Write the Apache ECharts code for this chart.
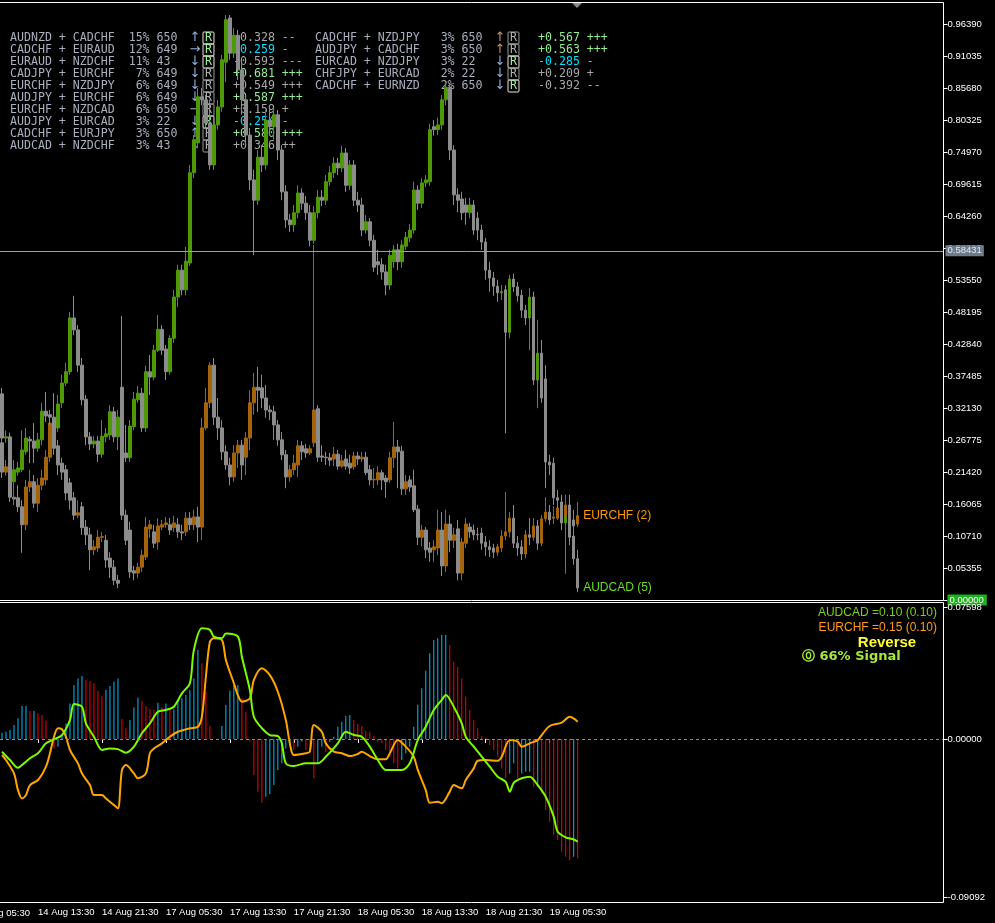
<!DOCTYPE html>
<html><head><meta charset="utf-8">
<script src="https://cdn.jsdelivr.net/npm/echarts@6/dist/echarts.min.js"></script>
<style>html,body{margin:0;padding:0;background:#000;overflow:hidden}#c{width:995px;height:923px}</style>
</head><body><div id="c"></div>
<script>
// ---- candles: [open, close, low, high]
const audcad = [
[0.345,0.271,0.259,0.355],[0.271,0.273,0.263,0.284],[0.273,0.201,0.167,0.280],[0.198,0.218,0.159,0.234],[0.214,0.221,0.208,0.231],
[0.218,0.251,0.214,0.284],[0.248,0.271,0.243,0.288],[0.269,0.266,0.229,0.274],[0.266,0.254,0.229,0.296],[0.254,0.268,0.248,0.280],
[0.268,0.316,0.259,0.330],[0.316,0.308,0.298,0.348],[0.310,0.306,0.293,0.318],[0.306,0.288,0.254,0.346],[0.288,0.328,0.281,0.343],
[0.330,0.363,0.321,0.377],[0.363,0.382,0.358,0.397],[0.382,0.472,0.377,0.482],[0.472,0.452,0.443,0.509],[0.452,0.393,0.382,0.460],
[0.393,0.335,0.326,0.405],[0.336,0.273,0.259,0.343],[0.273,0.261,0.251,0.281],[0.261,0.266,0.254,0.274],[0.266,0.244,0.231,0.274],
[0.244,0.274,0.238,0.301],[0.273,0.278,0.264,0.288],[0.276,0.315,0.268,0.326],[0.315,0.273,0.264,0.323],[0.273,0.306,0.251,0.318],
[0.306,0.246,0.234,0.326],[0.246,0.238,0.231,0.293],[0.238,0.291,0.231,0.301],[0.290,0.336,0.284,0.348],[0.335,0.346,0.330,0.358],
[0.346,0.288,0.281,0.355],[0.288,0.382,0.281,0.392],[0.382,0.373,0.343,0.410],[0.373,0.418,0.368,0.427],[0.418,0.453,0.415,0.477],
[0.453,0.418,0.410,0.460],[0.420,0.382,0.368,0.427],[0.382,0.438,0.377,0.443],[0.438,0.507,0.430,0.519],[0.507,0.552,0.490,0.561],
[0.552,0.519,0.510,0.561],[0.519,0.567,0.510,0.591],[0.564,0.715,0.559,0.728],[0.715,0.770,0.706,0.778],[0.765,0.842,0.756,0.857],
[0.842,0.837,0.828,0.857],[0.837,0.798,0.790,0.845],[0.798,0.728,0.720,0.837],[0.728,0.795,0.720,0.803],[0.795,0.825,0.787,0.837],
[0.825,0.904,0.817,0.912],[0.900,0.971,0.867,0.979],[0.974,0.915,0.904,0.979],[0.915,0.945,0.907,0.957],[0.945,0.887,0.870,0.954],
[0.887,0.837,0.812,0.900],[0.837,0.778,0.761,0.845],[0.778,0.703,0.686,0.790],[0.703,0.669,0.577,0.720],[0.669,0.741,0.661,0.753],
[0.741,0.728,0.716,0.761],[0.728,0.803,0.720,0.820],[0.803,0.792,0.778,0.828],[0.792,0.812,0.770,0.823],[0.812,0.753,0.736,0.820],
[0.753,0.683,0.669,0.761],[0.683,0.636,0.623,0.694],[0.636,0.628,0.616,0.646],[0.628,0.648,0.616,0.661],[0.648,0.681,0.639,0.694],
[0.681,0.664,0.653,0.689],[0.664,0.648,0.636,0.676],[0.648,0.602,0.592,0.661],[0.602,0.648,0.596,0.659],[0.648,0.674,0.639,0.686],
[0.674,0.669,0.659,0.686],[0.669,0.700,0.661,0.711],[0.700,0.715,0.693,0.726],[0.715,0.731,0.706,0.741],[0.731,0.723,0.711,0.740],
[0.723,0.748,0.716,0.760],[0.748,0.694,0.683,0.756],[0.694,0.728,0.686,0.736],[0.728,0.669,0.659,0.736],[0.669,0.661,0.649,0.683],
[0.661,0.619,0.609,0.673],[0.619,0.633,0.613,0.644],[0.633,0.602,0.592,0.639],[0.602,0.557,0.549,0.611],[0.566,0.561,0.544,0.586],
[0.561,0.549,0.536,0.572],[0.549,0.527,0.510,0.561],[0.527,0.577,0.519,0.586],[0.566,0.586,0.556,0.594],[0.586,0.566,0.552,0.596],
[0.566,0.594,0.556,0.602],[0.592,0.607,0.586,0.616],[0.606,0.619,0.599,0.629],[0.619,0.686,0.613,0.700],[0.686,0.664,0.653,0.694],
[0.664,0.698,0.656,0.706],[0.698,0.703,0.691,0.711],[0.700,0.787,0.693,0.797],[0.792,0.787,0.777,0.803],[0.787,0.795,0.778,0.807],
[0.795,0.837,0.787,0.845],[0.837,0.858,0.828,0.863],[0.858,0.753,0.736,0.863],[0.753,0.678,0.661,0.761],[0.678,0.669,0.649,0.689],
[0.671,0.648,0.636,0.683],[0.661,0.649,0.628,0.673],[0.648,0.661,0.639,0.673],[0.661,0.619,0.611,0.669],[0.639,0.619,0.602,0.649],
[0.619,0.599,0.586,0.628],[0.599,0.552,0.536,0.606],[0.552,0.539,0.516,0.566],[0.539,0.525,0.509,0.549],[0.525,0.514,0.499,0.536],
[0.514,0.516,0.502,0.527],[0.519,0.448,0.279,0.527],[0.448,0.537,0.438,0.544],[0.537,0.524,0.516,0.546],[0.524,0.509,0.499,0.532],
[0.510,0.485,0.472,0.519],[0.485,0.472,0.460,0.494],[0.472,0.507,0.418,0.522],[0.507,0.368,0.360,0.516],[0.368,0.413,0.321,0.469],
[0.413,0.338,0.330,0.435],[0.370,0.231,0.187,0.393],[0.231,0.226,0.209,0.243],[0.229,0.171,0.159,0.238],[0.171,0.167,0.154,0.184],
[0.164,0.129,0.117,0.176],[0.129,0.139,0.044,0.147],[0.144,0.105,0.092,0.159],[0.107,0.069,0.059,0.121],[0.069,0.020,0.013,0.084]
];
const eurchf = [
[0.263,0.214,0.204,0.271],[0.214,0.223,0.208,0.234],[0.223,0.172,0.164,0.231],[0.172,0.169,0.159,0.184],[0.171,0.156,0.147,0.192],
[0.156,0.126,0.079,0.167],[0.126,0.189,0.117,0.201],[0.189,0.198,0.181,0.218],[0.198,0.162,0.154,0.209],[0.162,0.192,0.147,0.204],
[0.192,0.204,0.184,0.218],[0.201,0.239,0.192,0.251],[0.239,0.296,0.231,0.310],[0.296,0.254,0.243,0.305],[0.258,0.226,0.209,0.268],
[0.229,0.214,0.201,0.238],[0.218,0.179,0.167,0.226],[0.196,0.167,0.151,0.204],[0.171,0.142,0.134,0.181],[0.142,0.146,0.137,0.167],
[0.156,0.121,0.109,0.164],[0.122,0.109,0.092,0.134],[0.109,0.084,0.050,0.121],[0.084,0.089,0.075,0.100],[0.087,0.105,0.080,0.117],
[0.105,0.106,0.097,0.114],[0.100,0.067,0.054,0.109],[0.070,0.055,0.037,0.080],[0.055,0.033,0.025,0.067],[0.033,0.028,0.020,0.042],
[0.356,0.142,0.134,0.475],[0.142,0.100,0.092,0.151],[0.117,0.047,0.037,0.131],[0.049,0.045,0.033,0.057],[0.045,0.055,0.037,0.062],
[0.055,0.075,0.047,0.084],[0.072,0.122,0.067,0.139],[0.119,0.126,0.104,0.134],[0.114,0.095,0.087,0.126],[0.097,0.124,0.084,0.137],
[0.122,0.126,0.117,0.134],[0.126,0.129,0.121,0.139],[0.126,0.117,0.109,0.137],[0.121,0.129,0.114,0.141],[0.126,0.114,0.104,0.137],
[0.114,0.112,0.100,0.126],[0.114,0.137,0.107,0.147],[0.137,0.126,0.117,0.147],[0.126,0.139,0.117,0.151],[0.139,0.122,0.097,0.156],
[0.122,0.288,0.100,0.305],[0.288,0.330,0.284,0.355],[0.330,0.393,0.321,0.398],[0.393,0.306,0.293,0.405],[0.306,0.288,0.268,0.338],
[0.288,0.248,0.234,0.301],[0.248,0.226,0.218,0.259],[0.226,0.206,0.192,0.238],[0.206,0.246,0.198,0.259],[0.246,0.259,0.221,0.268],
[0.259,0.226,0.201,0.268],[0.239,0.271,0.209,0.281],[0.271,0.330,0.251,0.351],[0.330,0.356,0.310,0.380],[0.356,0.351,0.315,0.390],
[0.355,0.338,0.321,0.377],[0.338,0.318,0.305,0.360],[0.318,0.315,0.301,0.326],[0.315,0.293,0.268,0.325],[0.293,0.268,0.258,0.301],
[0.268,0.243,0.234,0.281],[0.243,0.206,0.187,0.251],[0.206,0.218,0.198,0.226],[0.218,0.229,0.209,0.243],[0.226,0.258,0.206,0.268],
[0.258,0.248,0.234,0.266],[0.253,0.246,0.238,0.261],[0.246,0.253,0.243,0.259],[0.263,0.318,0.256,0.594],[0.320,0.239,0.231,0.326],
[0.241,0.239,0.231,0.259],[0.239,0.238,0.226,0.248],[0.238,0.234,0.224,0.246],[0.236,0.244,0.224,0.256],[0.244,0.224,0.218,0.251],
[0.224,0.233,0.221,0.243],[0.236,0.224,0.218,0.251],[0.229,0.221,0.211,0.243],[0.223,0.241,0.218,0.248],[0.241,0.236,0.226,0.248],
[0.236,0.239,0.231,0.248],[0.239,0.213,0.209,0.248],[0.218,0.201,0.192,0.226],[0.201,0.202,0.187,0.221],[0.201,0.213,0.192,0.224],
[0.213,0.201,0.184,0.218],[0.204,0.198,0.171,0.209],[0.201,0.238,0.196,0.248],[0.238,0.256,0.221,0.298],[0.256,0.248,0.187,0.268],
[0.249,0.186,0.176,0.258],[0.186,0.198,0.176,0.209],[0.201,0.189,0.181,0.208],[0.191,0.151,0.147,0.218],[0.152,0.105,0.092,0.159],
[0.105,0.117,0.090,0.126],[0.117,0.084,0.070,0.122],[0.087,0.080,0.064,0.097],[0.084,0.089,0.064,0.100],[0.087,0.117,0.075,0.151],
[0.117,0.057,0.040,0.147],[0.057,0.127,0.047,0.151],[0.127,0.100,0.080,0.142],[0.100,0.109,0.087,0.121],[0.119,0.045,0.033,0.134],
[0.045,0.097,0.033,0.104],[0.095,0.127,0.087,0.137],[0.122,0.114,0.104,0.129],[0.117,0.109,0.100,0.126],[0.110,0.109,0.100,0.121],
[0.112,0.095,0.084,0.121],[0.097,0.089,0.074,0.107],[0.089,0.084,0.072,0.100],[0.087,0.080,0.070,0.094],[0.080,0.089,0.074,0.094],
[0.087,0.107,0.080,0.117],[0.107,0.114,0.100,0.181],[0.114,0.137,0.105,0.147],[0.137,0.095,0.087,0.159],[0.095,0.087,0.074,0.107],
[0.089,0.077,0.067,0.100],[0.077,0.109,0.070,0.117],[0.109,0.105,0.092,0.137],[0.105,0.124,0.099,0.137],[0.124,0.095,0.084,0.134],
[0.095,0.136,0.090,0.142],[0.136,0.147,0.131,0.172],[0.147,0.134,0.126,0.159],[0.137,0.139,0.127,0.157],[0.137,0.154,0.134,0.167],
[0.149,0.141,0.134,0.164],[0.134,0.159,0.127,0.176],[0.159,0.134,0.124,0.176],[0.134,0.124,0.112,0.151],[0.127,0.141,0.122,0.164]
];
// ---- lower panel lines: [barIndex, value]
const audcadOsc = [[0,-0.0073],[2,-0.0121],[4,-0.0165],[5,-0.0150],[7,-0.0111],[9,-0.0082],[11,-0.0025],[13,-0.0002],[15,0.0023],[17,0.0109],[18,0.0201],[20,0.0186],[21,0.0090],[23,0.0013],[25,-0.0063],[27,-0.0054],[29,-0.0058],[31,-0.0079],[33,-0.0044],[35,0.0033],[37,0.0090],[39,0.0157],[41,0.0167],[43,0.0186],[45,0.0263],[47,0.0321],[48,0.0512],[50,0.0637],[52,0.0628],[53,0.0589],[55,0.0580],[56,0.0608],[59,0.0589],[60,0.0474],[62,0.0282],[63,0.0128],[65,0.0062],[67,0.0023],[69,0.0017],[70,-0.0025],[71,-0.0140],[73,-0.0155],[76,-0.0140],[79,-0.0140],[81,-0.0102],[84,-0.0025],[86,0.0042],[88,0.0023],[90,0.0013],[92,-0.0044],[94,-0.0121],[96,-0.0178],[100,-0.0178],[102,-0.0140],[104,-0.0006],[106,0.0071],[108,0.0167],[110,0.0225],[111,0.0253],[113,0.0186],[115,0.0090],[116,0.0013],[118,-0.0044],[120,-0.0102],[122,-0.0159],[124,-0.0217],[126,-0.0246],[127,-0.0303],[128,-0.0252],[130,-0.0226],[132,-0.0217],[134,-0.0265],[136,-0.0332],[138,-0.0447],[139,-0.0534],[141,-0.0566],[143,-0.0578],[144,-0.0591]];
const eurchfOsc = [[0,-0.0092],[1,-0.0121],[3,-0.0198],[4,-0.0294],[5,-0.0342],[6,-0.0322],[7,-0.0265],[9,-0.0236],[11,-0.0159],[12,-0.0082],[13,0.0013],[14,0.0062],[15,0.0056],[16,0.0013],[17,-0.0063],[19,-0.0140],[20,-0.0198],[22,-0.0265],[23,-0.0322],[25,-0.0322],[26,-0.0342],[28,-0.0380],[29,-0.0399],[30,-0.0178],[31,-0.0150],[33,-0.0198],[34,-0.0226],[36,-0.0198],[37,-0.0082],[38,-0.0054],[40,-0.0025],[42,0.0013],[44,0.0042],[47,0.0062],[49,0.0071],[50,0.0128],[51,0.0359],[52,0.0560],[53,0.0580],[55,0.0570],[56,0.0455],[58,0.0321],[59,0.0253],[60,0.0215],[62,0.0234],[63,0.0340],[65,0.0407],[67,0.0368],[69,0.0272],[71,0.0109],[72,-0.0025],[73,-0.0092],[76,-0.0082],[77,-0.0073],[78,0.0081],[80,0.0042],[81,-0.0025],[83,-0.0073],[85,-0.0082],[87,-0.0098],[89,-0.0086],[90,-0.0073],[92,-0.0098],[94,-0.0117],[96,-0.0117],[97,-0.0082],[99,-0.0006],[101,-0.0044],[103,-0.0102],[104,-0.0178],[106,-0.0294],[107,-0.0367],[109,-0.0361],[110,-0.0370],[112,-0.0303],[113,-0.0265],[115,-0.0284],[116,-0.0236],[118,-0.0169],[119,-0.0125],[121,-0.0121],[124,-0.0125],[125,-0.0102],[127,-0.0006],[129,-0.0015],[130,-0.0044],[132,-0.0025],[134,-0.0006],[135,0.0023],[137,0.0075],[140,0.0094],[142,0.0128],[144,0.0100]];
// ---- lower panel histogram (one per bar)
const oscHist = [0.0036,0.0042,0.0052,0.0081,0.0119,0.0190,0.0190,0.0161,0.0161,0.0148,
0.0138,0.0106,-0.0006,-0.0054,-0.0044,0.0023,0.0090,0.0205,0.0311,0.0349,
0.0363,0.0340,0.0334,0.0321,0.0278,0.0248,0.0282,0.0305,0.0330,0.0349,
0.0115,0.0062,0.0109,0.0182,0.0238,0.0220,0.0190,0.0171,0.0167,0.0209,
0.0182,0.0205,0.0167,0.0171,0.0225,0.0234,0.0253,0.0282,0.0349,0.0512,
0.0436,0.0272,0.0075,0.0002,0.0001,0.0075,0.0196,0.0278,0.0311,0.0311,
0.0234,0.0157,-0.0015,-0.0207,-0.0303,-0.0367,-0.0332,-0.0317,-0.0265,-0.0178,
-0.0140,-0.0054,-0.0035,-0.0063,-0.0044,-0.0015,-0.0063,-0.0073,-0.0226,-0.0144,
-0.0044,-0.0073,-0.0015,0.0013,0.0071,0.0100,0.0132,0.0138,0.0109,0.0086,
0.0075,0.0048,0.0042,0.0017,-0.0015,-0.0025,-0.0063,-0.0102,-0.0140,-0.0169,
-0.0121,-0.0082,-0.0044,0.0071,0.0196,0.0292,0.0393,0.0493,0.0570,0.0580,
0.0599,0.0599,0.0541,0.0445,0.0416,0.0349,0.0244,0.0167,0.0109,0.0062,
0.0017,0.0008,-0.0035,-0.0063,-0.0102,-0.0169,-0.0226,-0.0198,-0.0140,-0.0226,
-0.0198,-0.0188,-0.0188,-0.0274,-0.0274,-0.0313,-0.0409,-0.0476,-0.0553,-0.0581,
-0.0649,-0.0678,-0.0697,-0.0678,-0.0687];
// ---- axes
const priceStep = 0.05355;
const priceMax = 0.999;
const bidLine = 0.58431;
const oscTicks = [0.07598, 0, -0.09092];
const firstBar = Date.UTC(2020, 7, 14, 9, 0);
const slotCount = 236;
const months = ['Jan','Feb','Mar','Apr','May','Jun','Jul','Aug','Sep','Oct','Nov','Dec'];
const labelEvery = 16, labelFirst = 9;
const preLabel = '14 Aug 05:30';
// ---- table
const tblPair1 = ['AUDNZD','CADCHF','EURAUD','CADJPY','EURCHF','AUDJPY','EURCHF','AUDJPY','CADCHF','AUDCAD','CADCHF','AUDJPY','EURCAD','CHFJPY','CADCHF'];
const tblPair2 = ['CADCHF','EURAUD','NZDCHF','EURCHF','NZDJPY','EURCHF','NZDCAD','EURCAD','EURJPY','NZDCHF','NZDJPY','CADCHF','NZDJPY','EURCAD','EURNZD'];
const tblPct = ['15%','12%','11%','7%','6%','6%','6%','3%','3%','3%','3%','3%','3%','2%','2%'];
const tblCount = ['650','649','43','649','649','649','650','22','650','43','650','650','22','22','650'];
const tblDir = ['↑','→','↓','↓','↓','↓','→','↓','↑','↓','↑','↑','↓','↓','↓'];
const tblRActive = [1,1,1,0,0,0,0,1,0,0,0,0,1,0,1];
const tblCorr = ['-0.328','-0.259','-0.593','+0.681','+0.549','+0.587','+0.159','-0.254','+0.580','+0.346','+0.567','+0.563','-0.285','+0.209','-0.392'];
const tblStrength = ['--','-','---','+++','+++','+++','+','-','+++','++','+++','+++','-','+','--'];
const tblCorrTone = ['n','c','n','g','n','g','n','c','g','n','g','g','c','n','n'];
const legendText = ['AUDCAD =0.10 (0.10)', 'EURCHF =0.15 (0.10)'];
const signalText = ['Reverse', '⓪ 66% Signal'];

// categories (30-minute bars, weekend skipped)
const cats = [];
for (let t = firstBar; cats.length < slotCount; t += 30 * 60000) {
  const d = new Date(t), wd = d.getUTCDay();
  if (wd === 0 || wd === 6) continue;
  const hh = String(d.getUTCHours()).padStart(2, '0'), mm = String(d.getUTCMinutes()).padStart(2, '0');
  cats.push(d.getUTCDate() + ' ' + months[d.getUTCMonth()] + ' ' + hh + ':' + mm);
}
const nBars = audcad.length;
const showTime = (i) => i < nBars && (i - labelFirst) % labelEvery === 0;

const GREEN = '#4e9a06', GRAY = '#8c8c8c', BROWN = '#a5640c';
const axisFont = 'Liberation Sans, Arial, sans-serif';
const mono = '11.6px "DejaVu Sans Mono", "Liberation Mono", monospace';
const arrowFont = '13px "DejaVu Sans", sans-serif';

// table graphics
const graphics = [];
const pitch = 7;
for (let r = 0; r < tblPair1.length; r++) {
  const right = r >= 10;
  const x0 = right ? 315 : 10;
  const y = 38 + 12 * (right ? r - 10 : r);
  graphics.push({ type: 'text', x: x0, y: y, z: 1, silent: true,
    style: { text: tblPair1[r] + ' + ' + tblPair2[r] + tblPct[r].padStart(5) + ' ' + tblCount[r], fill: '#a9afbd', font: mono, verticalAlign: 'middle' } });
  graphics.push({ type: 'text', x: x0 + 26 * pitch + 3, y: y, z: 1, silent: true,
    style: { text: tblDir[r], fill: (right && tblDir[r] === '↑') ? '#c0966a' : '#8db0dc', font: arrowFont, align: 'center', verticalAlign: 'middle' } });
  const act = tblRActive[r] === 1;
  graphics.push({ type: 'text', x: x0 + 28 * pitch - 3, y: y, z: 1, silent: true,
    style: { text: 'R', fill: act ? '#9cf09c' : '#b0b0b0', font: mono, verticalAlign: 'middle',
      borderColor: act ? '#f4e4dc' : '#9a9a9a', borderWidth: 1, padding: [0, 2, 0, 2], borderRadius: 1 } });
  const tone = tblCorrTone[r];
  graphics.push({ type: 'text', x: x0 + 32 * pitch - 1, y: y, z: 1, silent: true,
    style: { text: tblCorr[r] + ' ' + tblStrength[r], fill: tone === 'g' ? '#90ee90' : tone === 'c' ? '#00e0ff' : '#a8a8a8', font: mono, verticalAlign: 'middle' } });
}
// frames
graphics.push({ type: 'rect', z: 50, silent: true, shape: { x: -0.5, y: 2.5, width: 944, height: 598 }, style: { fill: 'none', stroke: '#ffffff', lineWidth: 1 } });
graphics.push({ type: 'rect', z: 50, silent: true, shape: { x: -0.5, y: 602.5, width: 944, height: 300 }, style: { fill: 'none', stroke: '#ffffff', lineWidth: 1 } });
graphics.push({ type: 'polygon', z: 50, silent: true, shape: { points: [[572, 3], [582, 3], [577, 8]] }, style: { fill: '#8a8a8a' } });
// pre-data time label (clipped at left edge)
graphics.push({ type: 'text', x: 1.5 - 4 * 7, y: 913, z: 50, silent: true, style: { text: preLabel, fill: '#ffffff', font: '9.5px ' + axisFont, verticalAlign: 'middle' } });
// lower panel legends
graphics.push({ type: 'text', x: 937, y: 613, z: 50, silent: true, style: { text: legendText[0], fill: '#7ccf1e', font: '12px ' + axisFont, align: 'right', verticalAlign: 'middle' } });
graphics.push({ type: 'text', x: 937, y: 628, z: 50, silent: true, style: { text: legendText[1], fill: '#ff9a1a', font: '12px ' + axisFont, align: 'right', verticalAlign: 'middle' } });
graphics.push({ type: 'text', x: 887, y: 643, z: 50, silent: true, style: { text: signalText[0], fill: '#ffff33', font: 'bold 15px ' + axisFont, align: 'center', verticalAlign: 'middle' } });
graphics.push({ type: 'text', x: 802, y: 657, z: 50, silent: true, style: { text: signalText[1], fill: '#a6e83c', font: 'bold 13px "DejaVu Sans", ' + axisFont, verticalAlign: 'middle' } });

const chart = echarts.init(document.getElementById('c'), null, { renderer: 'canvas' });
chart.setOption({
  backgroundColor: '#000000',
  animation: false,
  grid: [
    { left: -0.5, right: 51.5, top: 3, height: 597 },
    { left: -0.5, right: 51.5, top: 607, height: 290 }
  ],
  xAxis: [
    { type: 'category', gridIndex: 0, data: cats, boundaryGap: true,
      axisLine: { show: false }, axisTick: { show: false }, axisLabel: { show: false }, splitLine: { show: false } },
    { type: 'category', gridIndex: 1, data: cats, boundaryGap: true, offset: 5,
      axisLine: { show: false },
      axisTick: { show: true, alignWithLabel: true, interval: showTime, length: 4, lineStyle: { color: '#ffffff' } },
      axisLabel: { show: true, interval: showTime, align: 'left', margin: 5, color: '#ffffff', fontSize: 9.5, fontFamily: axisFont },
      splitLine: { show: false } }
  ],
  yAxis: [
    { type: 'value', gridIndex: 0, position: 'right', min: 0, max: priceMax, interval: priceStep,
      axisLine: { show: true, lineStyle: { color: '#ffffff' } },
      axisTick: { show: true, length: 4, lineStyle: { color: '#ffffff' } },
      splitLine: { show: false },
      axisLabel: { showMaxLabel: false, margin: 4, color: '#ffffff', fontSize: 9.5, fontFamily: axisFont,
        formatter: (v) => v === 0 ? '{z|0.00000}' : v.toFixed(5),
        rich: { z: { backgroundColor: '#1faf1f', color: '#ffffff', fontSize: 9.5, fontFamily: axisFont, padding: [1, 3, 0, 2] } } } },
    { type: 'value', gridIndex: 1, position: 'right', min: oscTicks[2], max: oscTicks[0],
      axisLine: { show: true, lineStyle: { color: '#ffffff' } },
      axisTick: { show: true, length: 4, customValues: oscTicks, lineStyle: { color: '#ffffff' } },
      splitLine: { show: false },
      axisLabel: { customValues: oscTicks, margin: 4, color: '#ffffff', fontSize: 9.5, fontFamily: axisFont, formatter: (v) => v.toFixed(5) } }
  ],
  series: [
    { name: 'EURCHF', type: 'candlestick', xAxisIndex: 0, yAxisIndex: 0, data: eurchf, barWidth: 3, clip: false,
      itemStyle: { color: BROWN, color0: GRAY, borderColor: BROWN, borderColor0: GRAY, borderWidth: 1 },
      markPoint: { symbol: 'circle', symbolSize: 1, itemStyle: { color: 'rgba(0,0,0,0)' },
        label: { show: true, position: 'right', distance: 5, formatter: 'EURCHF (2)', color: '#ff9900', fontSize: 12, fontFamily: axisFont },
        data: [{ coord: [nBars - 1, eurchf[nBars - 1][1]] }] } },
    { name: 'AUDCAD', type: 'candlestick', xAxisIndex: 0, yAxisIndex: 0, data: audcad, barWidth: 3, clip: false,
      itemStyle: { color: GREEN, color0: GRAY, borderColor: GREEN, borderColor0: GRAY, borderWidth: 1 },
      markLine: { silent: true, symbol: 'none', animation: false, precision: 5,
        lineStyle: { color: '#9aa0a8', width: 1, type: 'solid' },
        label: { show: true, position: 'end', distance: 2, formatter: () => bidLine.toFixed(5), color: '#e4e8ec',
          backgroundColor: '#6c7c8c', padding: [1, 2, 0, 2], fontSize: 9.5, fontFamily: axisFont },
        data: [{ yAxis: bidLine }] },
      markPoint: { symbol: 'circle', symbolSize: 1, itemStyle: { color: 'rgba(0,0,0,0)' },
        label: { show: true, position: 'right', distance: 5, formatter: 'AUDCAD (5)', color: '#66dd22', fontSize: 12, fontFamily: axisFont },
        data: [{ coord: [nBars - 1, audcad[nBars - 1][1]] }] } },
    { name: 'hist', type: 'bar', xAxisIndex: 1, yAxisIndex: 1, data: oscHist, barWidth: 1,
      itemStyle: { color: (p) => (p.dataIndex === 0 || oscHist[p.dataIndex] >= oscHist[p.dataIndex - 1]) ? '#00bfff' : '#ff0000' },
      markLine: { silent: true, symbol: 'none', label: { show: false },
        lineStyle: { color: '#8a8a8a', width: 1, type: [3, 3] }, data: [{ yAxis: 0 }] } },
    { name: 'EURCHF osc', type: 'line', xAxisIndex: 1, yAxisIndex: 1, data: eurchfOsc, showSymbol: false, smooth: 0.3,
      lineStyle: { color: '#ffa500', width: 2 } },
    { name: 'AUDCAD osc', type: 'line', xAxisIndex: 1, yAxisIndex: 1, data: audcadOsc, showSymbol: false, smooth: 0.3,
      lineStyle: { color: '#7cfc00', width: 2 } }
  ],
  graphic: { elements: graphics }
});
</script>
</body></html>
